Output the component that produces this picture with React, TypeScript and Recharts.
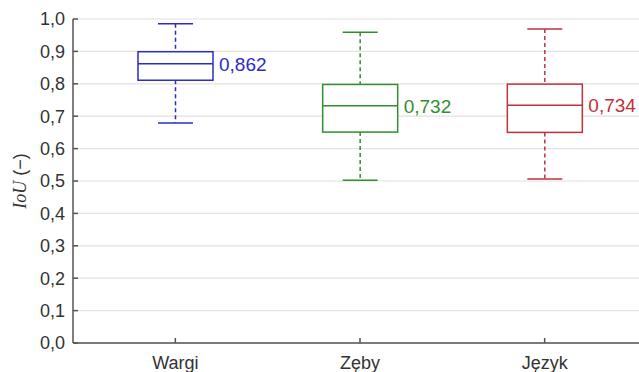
import { ComposedChart, Bar, XAxis, YAxis, CartesianGrid, Label } from 'recharts';

// Wartości (IoU)
const categories = ['Wargi', 'Zęby', 'Język'];
const whiskerLow = [0.679, 0.502, 0.506];
const q1 = [0.811, 0.651, 0.65];
const median = [0.862, 0.732, 0.734];
const q3 = [0.899, 0.798, 0.799];
const whiskerHigh = [0.985, 0.959, 0.969];
const medianLabels = ['0,862', '0,732', '0,734'];
const colors = ['#2b2bcc', '#2f8f2f', '#c2303a'];
const yTicks = [0, 0.1, 0.2, 0.3, 0.4, 0.5, 0.6, 0.7, 0.8, 0.9, 1];

const data = categories.map((name, i) => ({
  name,
  box: [q1[i], q3[i]],
  lo: whiskerLow[i],
  med: median[i],
  hi: whiskerHigh[i],
  text: medianLabels[i],
}));

const FONT = '"Liberation Sans", Arial, sans-serif';

function BoxShape(props: any) {
  const { x, width, payload, index } = props;
  let { y, height } = props;
  if (height < 0) {
    y = y + height;
    height = -height;
  }
  const [lo3, hi3] = payload.box;
  // piksele na jednostkę z geometrii słupka
  const k = height / (hi3 - lo3);
  const yOf = (v: number) => y + (hi3 - v) * k;
  const cx = x + width / 2;
  const c = colors[index];
  const capHalf = 17.5;
  return (
    <g>
      <line x1={cx} x2={cx} y1={yOf(payload.hi)} y2={y} stroke={c} strokeWidth={1.5} strokeDasharray="4 3" />
      <line x1={cx} x2={cx} y1={y + height} y2={yOf(payload.lo)} stroke={c} strokeWidth={1.5} strokeDasharray="4 3" />
      <line x1={cx - capHalf} x2={cx + capHalf} y1={yOf(payload.hi)} y2={yOf(payload.hi)} stroke={c} strokeWidth={1.5} />
      <line x1={cx - capHalf} x2={cx + capHalf} y1={yOf(payload.lo)} y2={yOf(payload.lo)} stroke={c} strokeWidth={1.5} />
      <rect x={x} y={y} width={width} height={height} fill="#fff" stroke={c} strokeWidth={1.5} />
      <line x1={x} x2={x + width} y1={yOf(payload.med)} y2={yOf(payload.med)} stroke={c} strokeWidth={1.5} />
      <text
        x={x + width + 6}
        y={yOf(payload.med)}
        dy="0.36em"
        fill={c}
        fontSize={19}
        fontFamily={FONT}
      >
        {payload.text}
      </text>
    </g>
  );
}

function YLabel(props: any) {
  const vb = props.viewBox || { x: 0, y: 0, width: 0, height: 0 };
  const lx = vb.x + 12;
  const ly = vb.y + vb.height / 2;
  return (
    <text
      x={lx}
      y={ly}
      transform={`rotate(-90, ${lx}, ${ly})`}
      textAnchor="middle"
      dominantBaseline="central"
      fill="#333"
      fontSize={18}
    >
      <tspan fontFamily='"Liberation Serif", "DejaVu Serif", serif' fontStyle="italic">IoU</tspan>
      <tspan fontFamily={FONT}> (−)</tspan>
    </text>
  );
}

const fmt = (v: number) => v.toFixed(1).replace('.', ',');

export default function App() {
  return (
    <div
      style={{
        position: 'fixed',
        left: 0,
        top: 0,
        width: 639,
        height: 372,
        overflow: 'hidden',
        background: '#fff',
      }}
    >
      <div style={{ position: 'absolute', left: 8, top: 8 }}>
        <ComposedChart
          width={670}
          height={364}
          data={data}
          margin={{ top: 11, right: 9, bottom: 0, left: 0 }}
        >
          <CartesianGrid horizontal vertical={false} stroke="#e2e2e2" strokeWidth={1.2} />
          <XAxis
            dataKey="name"
            height={29}
            padding={{ left: 10, right: 32 }}
            tickSize={-5}
            tickMargin={18}
            stroke="#555"
            strokeWidth={1.5}
            tick={{ fill: '#333', fontSize: 18, fontFamily: FONT }}
          />
          <XAxis
            xAxisId="top"
            dataKey="name"
            orientation="top"
            height={0}
            padding={{ left: 10, right: 32 }}
            tickSize={-5}
            tick={false}
            stroke="#555"
            strokeWidth={1.5}
          />
          <YAxis
            domain={[0, 1]}
            ticks={yTicks}
            width={65}
            tickSize={-5}
            tickMargin={13}
            tickFormatter={fmt}
            stroke="#555"
            strokeWidth={1.5}
            tick={{ fill: '#333', fontSize: 18, fontFamily: FONT }}
          >
            <Label content={<YLabel />} />
          </YAxis>
          <Bar dataKey="box" barSize={75} shape={<BoxShape />} isAnimationActive={false} />
        </ComposedChart>
      </div>
    </div>
  );
}
